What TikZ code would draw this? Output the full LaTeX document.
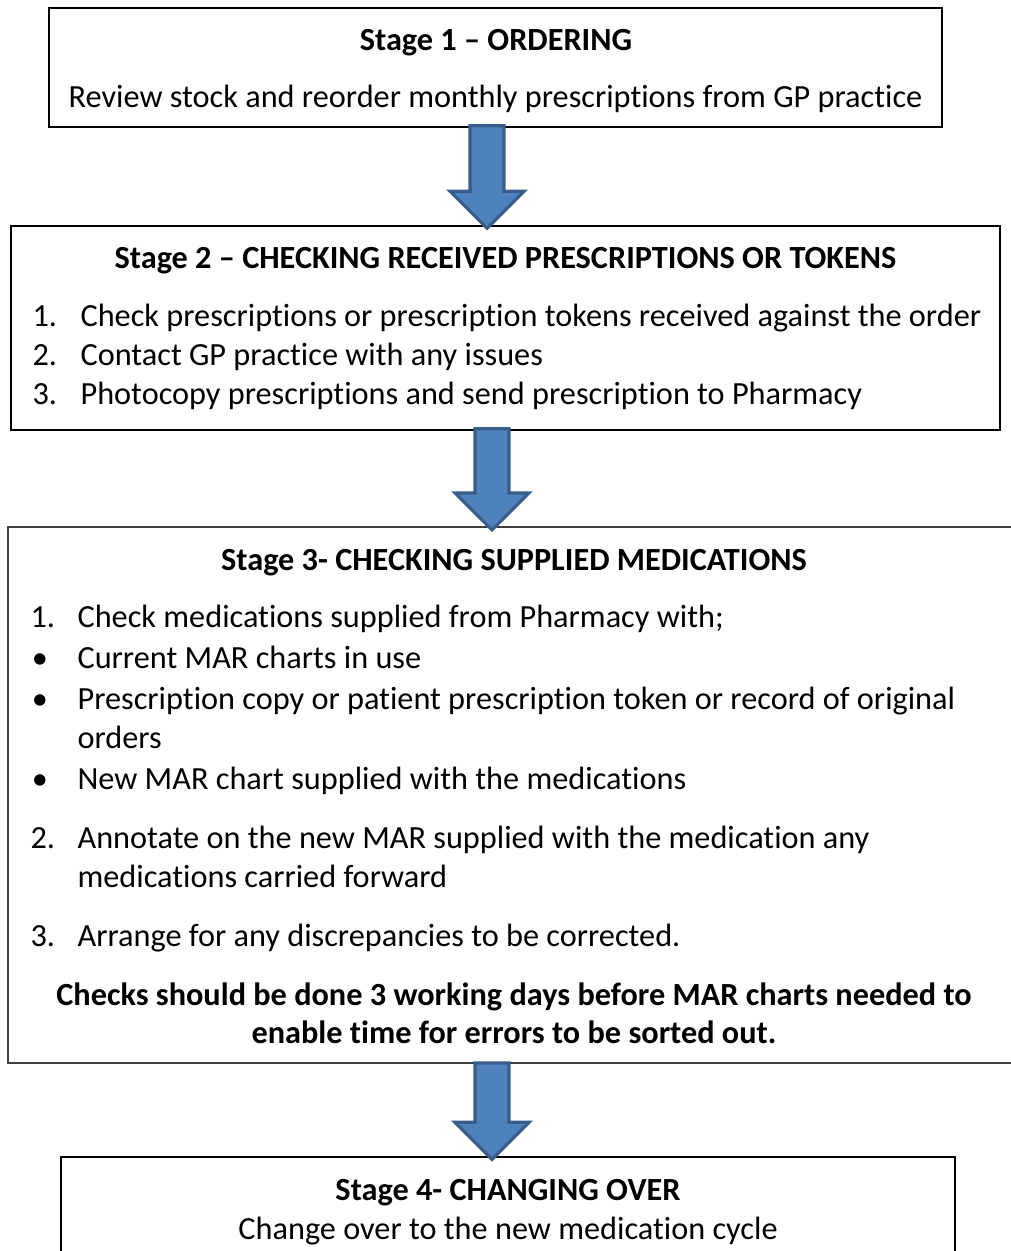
\documentclass[tikz,border=0pt]{standalone}
\usepackage{fontspec}
\setmainfont{Carlito}[Ligatures=NoCommon]
\usepackage{tikz}
\usetikzlibrary{calc,fit}

\newcommand{\blockarrow}[2]{%
  \draw[blockarrow] ($(#1)+(-17,0)$) -- ($(#2)+(-17,-37)$) -- ($(#2)+(-37,-37)$)
    -- (#2) -- ($(#2)+(37,-37)$) -- ($(#2)+(17,-37)$) -- ($(#1)+(17,0)$) -- cycle;}

\begin{document}
\begin{tikzpicture}[x=0.35pt, y=-0.35pt,
  stagebox/.style={draw=black, line width=0.5pt, inner sep=0pt},
  txt/.style={font=\fontsize{11.3}{13}\selectfont, inner sep=0pt},
  head/.style={txt, font=\fontsize{11.3}{13}\selectfont\bfseries},
  blockarrow/.style={fill={rgb,255:red,79;green,129;blue,189}, draw={rgb,255:red,56;green,93;blue,138}, line width=1.1pt, line join=miter},
]
\useasboundingbox (0,0) rectangle (1010,1251);

% boxes
\node[stagebox, fit={(49,8) (942,127)}] (b1) {};
\node[stagebox, fit={(11,226) (1000,430)}] (b2) {};
\node[stagebox, draw={rgb,255:red,64;green,64;blue,64}, line width=0.7pt, fit={(8,527) (1030,1063)}] (b3) {};
\node[stagebox, fit={(61,1157) (955,1290)}] (b4) {};

% arrow lines
\coordinate (a1) at (487,0);
\coordinate (a2) at (492,0);
\coordinate (a3) at (492,0);

\blockarrow{$(a1 |- b1.south)+(0,-2)$}{$(a1 |- b2.north)+(0,3)$}
\blockarrow{$(a2 |- b2.south)+(0,-2)$}{$(a2 |- b3.north)+(0,4)$}
\blockarrow{$(a3 |- b3.south)+(0,-1)$}{$(a3 |- b4.north)+(0,3)$}

% stage 1
\node[head, anchor=mid] (t1) at (496,44) {Stage 1 – ORDERING};
\node[txt, anchor=mid] (s1) at (495.5,101) {Review stock and reorder monthly prescriptions from GP practice};

% stage 2
\node[head, anchor=mid] (t2) at (505.5,262) {Stage 2 – CHECKING RECEIVED PRESCRIPTIONS OR TOKENS};
\node[txt, anchor=mid west] (n21) at (32,320) {1.};
\node[txt, anchor=mid west] (s21) at (80,320) {Check prescriptions or prescription tokens received against the order};
\node[txt, anchor=mid west] (n22) at (32,359) {2.};
\node[txt, anchor=mid west] (s22) at (80,359) {Contact GP practice with any issues};
\node[txt, anchor=mid west] (n23) at (32,398) {3.};
\node[txt, anchor=mid west] (s23) at (80,398) {Photocopy prescriptions and send prescription to Pharmacy};

% stage 3
\node[head, anchor=mid] (t3) at (514,564) {Stage 3- CHECKING SUPPLIED MEDICATIONS};
\node[txt, anchor=mid west] (n31) at (30,621) {1.};
\node[txt, anchor=mid west] (s31) at (77,621) {Check medications supplied from Pharmacy with;};
\node[txt, anchor=mid] (d1) at (40,662) {\textbullet};
\node[txt, anchor=mid west] (s32) at (77,662) {Current MAR charts in use};
\node[txt, anchor=mid] (d2) at (40,703) {\textbullet};
\node[txt, anchor=mid west] (s33) at (77,703) {Prescription copy or patient prescription token or record of original};
\node[txt, anchor=mid west] (s33b) at (77,742) {orders};
\node[txt, anchor=mid] (d3) at (40,783) {\textbullet};
\node[txt, anchor=mid west] (s34) at (77,783) {New MAR chart supplied with the medications};
\node[txt, anchor=mid west] (n32) at (30,842) {2.};
\node[txt, anchor=mid west] (s35) at (77,842) {Annotate on the new MAR supplied with the medication any};
\node[txt, anchor=mid west] (s35b) at (77,881) {medications carried forward};
\node[txt, anchor=mid west] (n33) at (30,940) {3.};
\node[txt, anchor=mid west] (s36) at (77,940) {Arrange for any discrepancies to be corrected.};
\node[head, anchor=mid] (w1) at (514,999) {Checks should be done 3 working days before MAR charts needed to};
\node[head, anchor=mid] (w2) at (514,1037) {enable time for errors to be sorted out.};

% stage 4
\node[head, anchor=mid] (t4) at (508,1194) {Stage 4- CHANGING OVER};
\node[txt, anchor=mid] (s4) at (508,1233) {Change over to the new medication cycle};

\end{tikzpicture}
\end{document}
